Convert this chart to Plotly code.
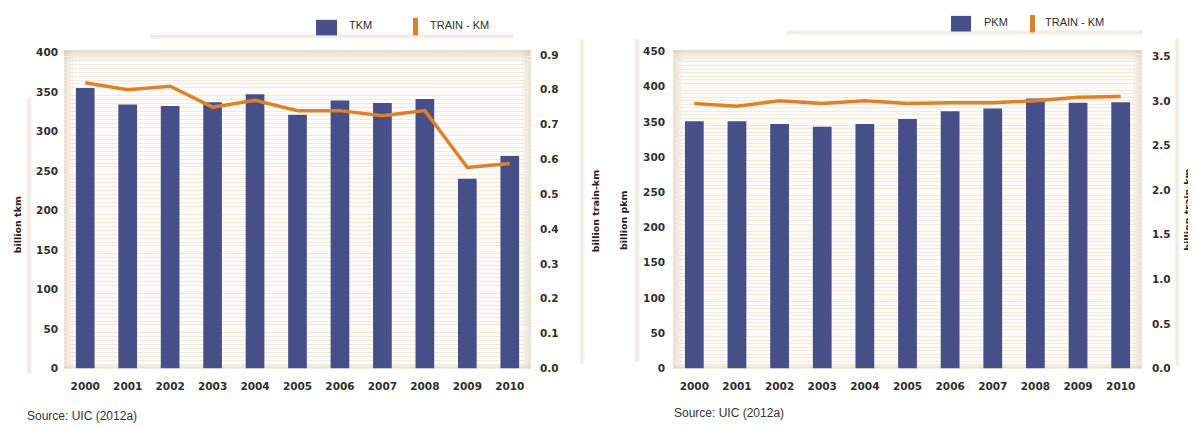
import plotly.graph_objects as go

years = ["2000", "2001", "2002", "2003", "2004", "2005", "2006", "2007", "2008", "2009", "2010"]
tkm = [355, 334, 332, 337, 347, 321, 339, 336, 341, 240, 269]
freight_train_km = [0.82, 0.80, 0.81, 0.75, 0.77, 0.74, 0.74, 0.725, 0.74, 0.577, 0.588]
pkm = [351, 351, 347, 343, 347, 354, 365, 369, 383, 377, 378]
passenger_train_km = [2.97, 2.94, 3.00, 2.97, 3.00, 2.97, 2.98, 2.98, 3.00, 3.04, 3.05]

# the page body has an 8px margin; size the figure so it fills the 1196x429 window
OFF = 8
W, H = 1196 - OFF, 429 - OFF
BAR = "#474f89"
ORANGE = "#e0812a"
TXT = "#2e2e2e"


def px(x):
    return (x - OFF) / W


def py(y):
    return 1 - (y - OFF) / H


TOP, BOT = 46, 373
L_X0, L_X1 = 64, 531
R_X0, R_X1 = 673, 1142

fig = go.Figure()
fig.add_trace(go.Bar(x=years, y=tkm, marker=dict(color=BAR, line=dict(width=0)),
                     xaxis="x", yaxis="y", showlegend=False, name="TKM"))
fig.add_trace(go.Scatter(x=years, y=freight_train_km, mode="lines",
                         line=dict(color=ORANGE, width=3.5), xaxis="x", yaxis="y2",
                         showlegend=False, name="TRAIN - KM"))
fig.add_trace(go.Bar(x=years, y=pkm, marker=dict(color=BAR, line=dict(width=0)),
                     xaxis="x2", yaxis="y3", showlegend=False, name="PKM"))
fig.add_trace(go.Scatter(x=years, y=passenger_train_km, mode="lines",
                         line=dict(color=ORANGE, width=3.5), xaxis="x2", yaxis="y4",
                         showlegend=False, name="TRAIN - KM"))

tickfont = dict(family="DejaVu Sans", size=10.5, color=TXT, weight="bold")
ydom = [py(BOT), py(TOP)]
stripe = dict(showgrid=True, gridcolor="#f1ebdd", gridwidth=1.2, dtick=5,
              ticks="", tickcolor="rgba(0,0,0,0)")

fig.update_layout(
    width=W, height=H,
    margin=dict(l=0, r=0, t=0, b=0),
    paper_bgcolor="white",
    plot_bgcolor="#fcfbf8",
    bargap=0.56,
    showlegend=False,
    xaxis=dict(domain=[px(L_X0), px(L_X1)], anchor="y", type="category",
               showgrid=False, showline=False, zeroline=False, ticks="",
               tickfont=tickfont, ticklabelstandoff=10),
    yaxis=dict(domain=ydom, range=[0, 403], dtick=50, showgrid=False,
               zeroline=False, showline=False, ticks="", tickfont=tickfont,
               ticklabelstandoff=5, minor=stripe),
    yaxis2=dict(overlaying="y", side="right", anchor="x", range=[0, 0.914],
                dtick=0.1, tickformat=".1f", showgrid=False, zeroline=False,
                showline=False, ticks="", tickfont=tickfont, ticklabelstandoff=8),
    xaxis2=dict(domain=[px(R_X0), px(R_X1)], anchor="y3", type="category",
                showgrid=False, showline=False, zeroline=False, ticks="",
                tickfont=tickfont, ticklabelstandoff=10),
    yaxis3=dict(domain=ydom, anchor="x2", range=[0, 452], dtick=50, showgrid=False,
                zeroline=False, showline=False, ticks="", tickfont=tickfont,
                ticklabelstandoff=7, minor=stripe),
    yaxis4=dict(overlaying="y3", side="right", anchor="x2", range=[0, 3.57],
                dtick=0.5, tickformat=".1f", showgrid=False, zeroline=False,
                showline=False, ticks="", tickfont=tickfont, ticklabelstandoff=9),
)

shapes = []
EDGE = "#d8cbad"


def edge_fade(x0, x1, y0, y1):
    # soft inner shadow around plot area
    for i, op in enumerate([0.55, 0.35, 0.2, 0.1]):
        t = 3
        shapes.append(dict(type="rect", xref="paper", yref="paper", layer="between",
                           x0=px(x0), x1=px(x1), y0=py(y0 + i * t), y1=py(y0 + (i + 1) * t),
                           fillcolor=EDGE, opacity=op, line=dict(width=0)))
    for i, op in enumerate([0.5, 0.3, 0.15]):
        t = 3
        shapes.append(dict(type="rect", xref="paper", yref="paper", layer="between",
                           x0=px(x0 + i * t), x1=px(x0 + (i + 1) * t), y0=py(y1), y1=py(y0),
                           fillcolor=EDGE, opacity=op, line=dict(width=0)))
        shapes.append(dict(type="rect", xref="paper", yref="paper", layer="between",
                           x0=px(x1 - (i + 1) * t), x1=px(x1 - i * t), y0=py(y1), y1=py(y0),
                           fillcolor=EDGE, opacity=op, line=dict(width=0)))
    for i, op in enumerate([0.5, 0.25]):
        t = 2
        shapes.append(dict(type="rect", xref="paper", yref="paper", layer="between",
                           x0=px(x0), x1=px(x1), y0=py(y1 - i * t), y1=py(y1 - (i + 1) * t),
                           fillcolor=EDGE, opacity=op, line=dict(width=0)))


edge_fade(L_X0, L_X1, TOP, BOT)
edge_fade(R_X0, R_X1, TOP, BOT)


def shadow_v(x, y0, y1):
    for w, op in [(6, 0.12), (2.5, 0.28)]:
        shapes.append(dict(type="line", xref="paper", yref="paper", layer="below",
                           x0=px(x), x1=px(x), y0=py(y0), y1=py(y1),
                           line=dict(color="#d9ceb6", width=w), opacity=op))


def shadow_h(y, x0, x1):
    for w, op in [(6, 0.12), (2.5, 0.28)]:
        shapes.append(dict(type="line", xref="paper", yref="paper", layer="below",
                           x0=px(x0), x1=px(x1), y0=py(y), y1=py(y),
                           line=dict(color="#d9ceb6", width=w), opacity=op))


shadow_v(29, 95, 378)
shadow_v(582, 35, 368)
shadow_h(32, 150, 513)
shadow_v(637, 35, 366)
shadow_v(1177, 35, 370)
shadow_h(28, 787, 1143)

# legend keys
for (bx0, bx1, by0, by1, ox0, oy0, oy1) in [(316, 337, 15, 31, 413, 13, 31),
                                           (951, 971, 11, 27, 1030, 10, 28)]:
    shapes.append(dict(type="rect", xref="paper", yref="paper",
                       x0=px(bx0), x1=px(bx1), y0=py(by1), y1=py(by0),
                       fillcolor=BAR, line=dict(width=0)))
    shapes.append(dict(type="rect", xref="paper", yref="paper",
                       x0=px(ox0), x1=px(ox0 + 5), y0=py(oy1), y1=py(oy0),
                       fillcolor=ORANGE, line=dict(width=0)))

fig.update_layout(shapes=shapes)

legfont = dict(family="Liberation Sans", size=11, color=TXT)
titlefont = dict(family="DejaVu Sans", size=9.5, color="#222222", weight="bold")
srcfont = dict(family="Liberation Sans", size=12, color="#333333")

ann = [
    dict(text="TKM", x=px(347), y=py(20), xanchor="left", yanchor="middle", font=legfont),
    dict(text="TRAIN - KM", x=px(428), y=py(20), xanchor="left", yanchor="middle", font=legfont),
    dict(text="PKM", x=px(982), y=py(17), xanchor="left", yanchor="middle", font=legfont),
    dict(text="TRAIN - KM", x=px(1043), y=py(17), xanchor="left", yanchor="middle", font=legfont),
    dict(text="billion tkm", x=px(17), y=py(226), textangle=-90, xanchor="center",
         yanchor="middle", font=titlefont),
    dict(text="billion train-km", x=px(595), y=py(211.5), textangle=-90, xanchor="center",
         yanchor="middle", font=titlefont),
    dict(text="billion pkm", x=px(623.5), y=py(221), textangle=-90, xanchor="center",
         yanchor="middle", font=titlefont),
    dict(text="billion train-km", x=px(1188), y=py(210), textangle=-90, xanchor="center",
         yanchor="middle", font=titlefont),
    dict(text="Source: UIC (2012a)", x=px(25), y=py(422), xanchor="left", yanchor="middle",
         font=srcfont),
    dict(text="Source: UIC (2012a)", x=px(672), y=py(419), xanchor="left", yanchor="middle",
         font=srcfont),
]
for a in ann:
    a.update(xref="paper", yref="paper", showarrow=False)
fig.update_layout(annotations=ann)

fig.write_html("out.html")
